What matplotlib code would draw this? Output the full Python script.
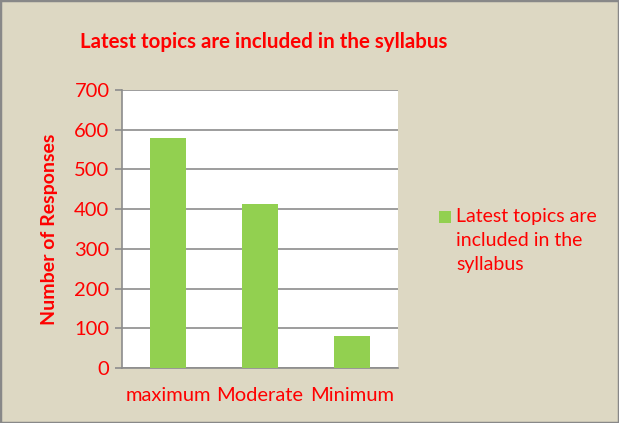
import numpy as np
import matplotlib.pyplot as plt
from matplotlib.patches import Rectangle

plt.rcParams['font.family'] = ['Lato', 'DejaVu Sans']

categories = ['maximum', 'Moderate', 'Minimum']
responses = [580, 413, 80]
series_name = 'Latest topics are\nincluded in the\nsyllabus'

bg = '#DDD8C3'
green = '#92D050'
red = '#FF0000'
W, H = 619, 423

fig = plt.figure(figsize=(6.19, 4.23), dpi=100, facecolor=bg)
fig.patches.append(Rectangle((0, 0), 1, 1, transform=fig.transFigure,
                             fill=False, edgecolor='#888888', linewidth=2.5))

ax = fig.add_axes([122/W, 1-368/H, 276/W, 278/H])
x = np.arange(len(categories))
bars = ax.bar(x, responses, width=0.4, color=green, label=series_name, zorder=3)

ax.set_xlim(-0.5, 2.5)
ax.set_ylim(0, 700)
ax.set_yticks(range(0, 701, 100))
ax.set_xticks(x)
ax.set_xticklabels(categories)
ax.grid(axis='y', color='#8C8C8C', linewidth=1.2, zorder=0)
for s in ['top', 'right']:
    ax.spines[s].set_visible(False)
ax.spines['left'].set_color('#8C8C8C')
ax.spines['bottom'].set_color('#8C8C8C')
ax.spines['left'].set_linewidth(1.2)
ax.spines['bottom'].set_linewidth(1.2)
ax.tick_params(axis='y', colors='#8C8C8C', labelcolor=red, labelsize=14.5,
               length=5, width=1.2, pad=4)
ax.tick_params(axis='x', length=0, labelcolor=red, labelsize=14.5, pad=14)

fig.text(49/W, 1-229/H, 'Number of Responses', color=red, fontsize=14,
         fontweight='bold', rotation=90, ha='center', va='center')
fig.text(264/W, 1-42/H, 'Latest topics are included in the syllabus',
         color=red, fontsize=14.8, fontweight='bold', ha='center', va='center')

# legend: marker aligned with the first line of the label
fig.patches.append(Rectangle((439/W, 1-223/H), 12/W, 12/H, transform=fig.transFigure,
                             facecolor=green, edgecolor='none'))
fig.text(456/W, 1-208/H, series_name, color=red, fontsize=14,
         ha='left', va='top', linespacing=1.5)

fig.savefig('out.png', dpi=100, facecolor=bg)
